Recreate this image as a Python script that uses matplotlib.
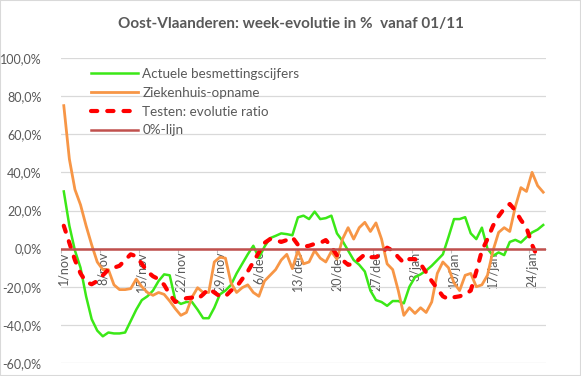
import matplotlib
matplotlib.use("Agg")
import matplotlib.pyplot as plt
import numpy as np
from matplotlib.patches import Rectangle
from matplotlib.ticker import FuncFormatter, FixedLocator

TITLE = "Oost-Vlaanderen: week-evolutie in %  vanaf 01/11"

# one point per day, 1/nov .. 26/jan
DATES = (
    [f"{d}/nov" for d in range(1, 31)]
    + [f"{d}/dec" for d in range(1, 32)]
    + [f"{d}/jan" for d in range(1, 27)]
)

besmetting = [
    30, 12, -1, -10, -25, -37, -43, -46, -44, -44.5,
    -44.5, -44, -38, -32, -27, -25, -22, -17, -13.5, -14,
    -27, -29, -28, -28, -32, -36.5, -36.5, -31, -24, -22,
    -19, -13, -8, -3, 1.5, -5, 1, 5.5, 6.7, 8,
    7.6, 7, 16.4, 17.3, 15.5, 19.4, 15.5, 16, 17.3, 8,
    4, -1, -6, -8.5, -12, -22, -27, -28, -30, -27.5,
    -27.5, -28.7, -20, -15, -13.5, -11.5, -9, -6, -3, 6,
    15.5, 15.5, 16.5, 8, 5, 11, 0, -3.8, -2, -3.4,
    3.5, 4.6, 3.2, 6, 8.5, 10, 12.4,
]

ziekenhuis = [
    75, 47, 31, 23, 12, 2, -7, -11, -11, -19,
    -21.5, -21.5, -21, -16, -20, -23, -24.5, -23, -24, -27.5,
    -31.5, -35, -33.5, -25.5, -20.5, -23, -23, -7, -4.5, -5,
    -18, -23, -20.5, -19, -23, -25, -17, -14, -11, -6,
    -3, -10.5, -1, -8, -7, -1, -5, -7, -1.5, -5.5,
    5, 11, 5, 11, 13.8, 9, 13.5, 5, -8, -11,
    -22, -35, -31, -34, -31, -33.5, -28, -13, -7, -10,
    -18, -22, -14, -13, -20, -19, -14, -1, 8.5, 11,
    9, 22, 32, 30, 40, 33, 29.6,
]

testen = [
    12, 3, -6, -13, -17.5, -18.7, -17, -14, -11, -10,
    -9, -6, -3, -4, -8, -12, -14.5, -16, -19, -24,
    -28, -27, -26, -25.7, -26.5, -24, -21, -23, -25, -25,
    -22, -20, -16, -12, -7, -2, 3, 5, 4.5, 3.5,
    4.5, 6, 2, 1, 1.5, 2.5, 3, 4.5, 1, -3.5,
    -6, -8.5, -8, -5.5, -3, -4.5, -4.5, -2.5, 0.5, -1,
    -4.5, -7.5, -5.5, -5.5, -8, -12.5, -17, -21, -25, -26.5,
    -25.5, -25, -24, -22, -12, -1, 5, 12, 17, 21,
    23.4, 20, 15, 11, 2, -4.6, np.nan,
]

GREY = "#595959"
FONT = "Lato"

fig = plt.figure(figsize=(5.81, 3.76), dpi=100)
ax = fig.add_axes([61 / 581, 13 / 376, 485 / 581, 305 / 376])

# axis crosses at 0 (set before the tick styling, it resets the ticks)
ax.spines["bottom"].set_position(("data", 0))
ax.spines["bottom"].set_color("#d9d9d9")
for side in ["top", "left", "right"]:
    ax.spines[side].set_visible(False)

days = np.arange(len(DATES))
ax.plot(days, besmetting, color="#3BE817", lw=1.8, zorder=3,
        label="Actuele besmettingscijfers")
ax.plot(days, ziekenhuis, color="#F79646", lw=2.0, zorder=3, label="Ziekenhuis-opname")
ax.plot(days, testen, color="#FF0000", lw=3.0, dashes=(1.5, 2.4), zorder=3,
        dash_capstyle="round", label="Testen: evolutie ratio")
ax.axhline(0, color="#C0504D", lw=1.8, zorder=4, label="0%-lijn")

ax.set_xlim(-0.5, len(DATES) - 0.5)
ax.set_ylim(-60, 100)
ax.set_yticks(np.arange(-60, 101, 20))
ax.yaxis.set_major_formatter(FuncFormatter(lambda v, _: f"{v:.1f}%".replace(".", ",")))
ax.grid(axis="y", color="#d9d9d9", lw=0.9)
ax.set_axisbelow(True)
ax.tick_params(axis="y", length=0, pad=14, labelsize=9, labelcolor=GREY)

week = days[::7]
ax.set_xticks(week)
ax.set_xticklabels([DATES[i] for i in week], rotation=90, fontsize=9, color=GREY,
                   family=FONT, va="top", ha="center")
ax.xaxis.set_minor_locator(FixedLocator(week - 0.5))
ax.tick_params(axis="x", which="major", length=0, pad=2)
ax.tick_params(axis="x", which="minor", length=3, color="#bfbfbf", width=0.8)
for lab in ax.get_yticklabels():
    lab.set_family(FONT)

leg = ax.legend(loc="upper left", bbox_to_anchor=(0.062, 0.967), frameon=False,
                borderpad=0, borderaxespad=0, handlelength=3.5, handletextpad=0.3,
                labelspacing=0.5, prop={"family": FONT, "size": 9.7})
for t in leg.get_texts():
    t.set_color(GREY)

fig.text(0.5, 1 - 24 / 376, TITLE, ha="center", va="center", fontsize=11,
         fontweight="bold", color=GREY, family=FONT)
fig.patches.append(Rectangle((0, 0), 1, 1, transform=fig.transFigure, fill=False,
                             edgecolor="#d9d9d9", lw=1.5))

fig.savefig("out.png", dpi=100)
